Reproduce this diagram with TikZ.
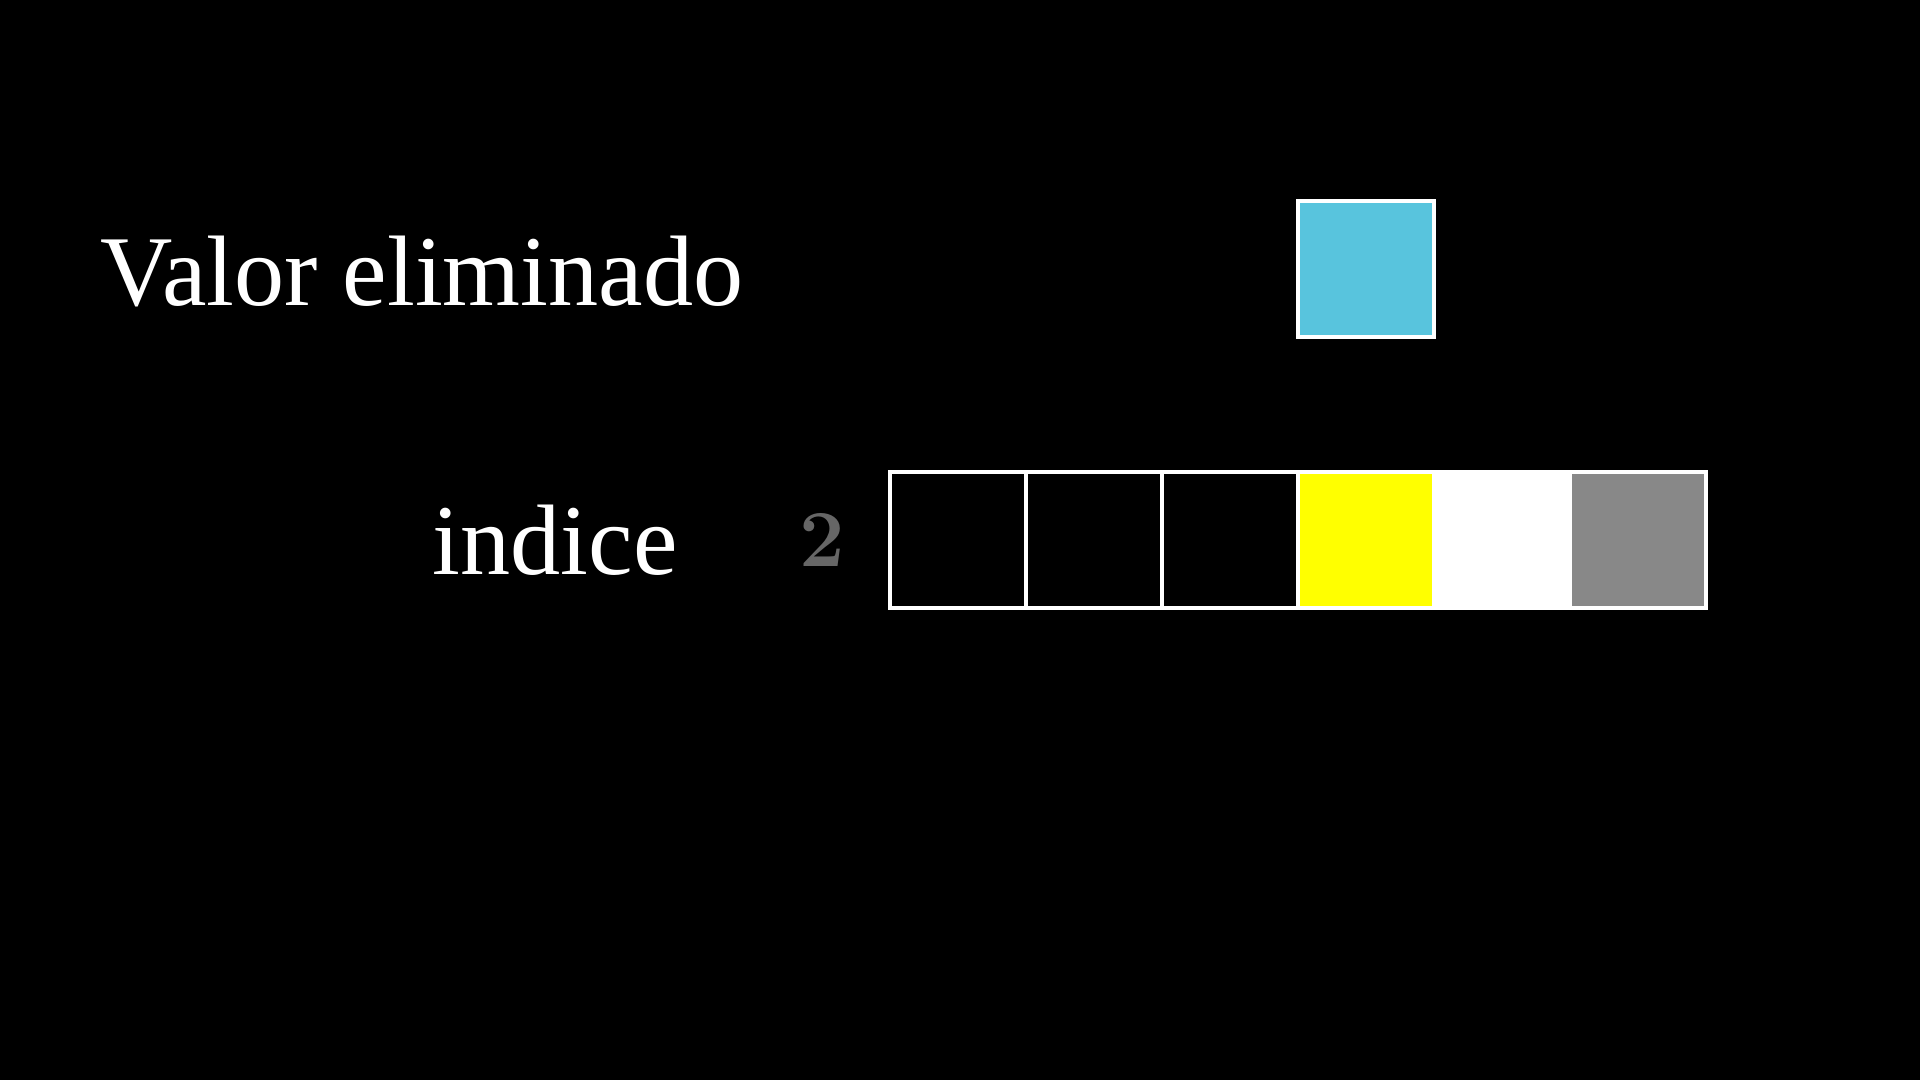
\documentclass[tikz,border=0pt]{standalone}
\usepackage{fontspec}
\usepackage{xcolor}
\usepackage{tikz}
\usetikzlibrary{positioning}
\newfontfamily\labelfont{Liberation Serif}
\definecolor{mblue}{HTML}{58C4DD}
\definecolor{myellow}{HTML}{FFFF00}
\definecolor{mgray}{HTML}{888888}
\definecolor{idxgray}{HTML}{666666}
\tikzset{
    cell/.style={rectangle, draw=white, line width=1.4pt, fill=black, minimum size=1.36cm, outer sep=0pt, inner sep=0pt},
    bigtext/.style={text=white, inner sep=0pt, font=\labelfont\fontsize{28.5}{33}\selectfont},
    idx/.style={text=idxgray, inner sep=0pt, font=\bfseries\fontsize{23}{28}\selectfont}
}
\begin{document}
\begin{tikzpicture}[node distance=0pt]
  \fill[black] (0,0) rectangle (19.2,10.8);
  \useasboundingbox (0,0) rectangle (19.2,10.8);
  \node[bigtext, anchor=base west] (valor) at (1.00,7.74) {Valor eliminado};
  \node[bigtext, anchor=base west] (indice) at (4.32,5.05) {indice};
  \node[cell] (c1) at (9.58,5.40) {};
  \node[cell, right=of c1] (c2) {};
  \node[cell, right=of c2] (c3) {};
  \node[cell, fill=myellow, right=of c3] (c4) {};
  \node[cell, fill=white, right=of c4] (c5) {};
  \node[cell, fill=mgray, right=of c5] (c6) {};
  \node[idx, left=0.44cm of c1] (num) {2};
  \node[cell, fill=mblue, above=1.35cm of c4] (removed) {};
\end{tikzpicture}
\end{document}
